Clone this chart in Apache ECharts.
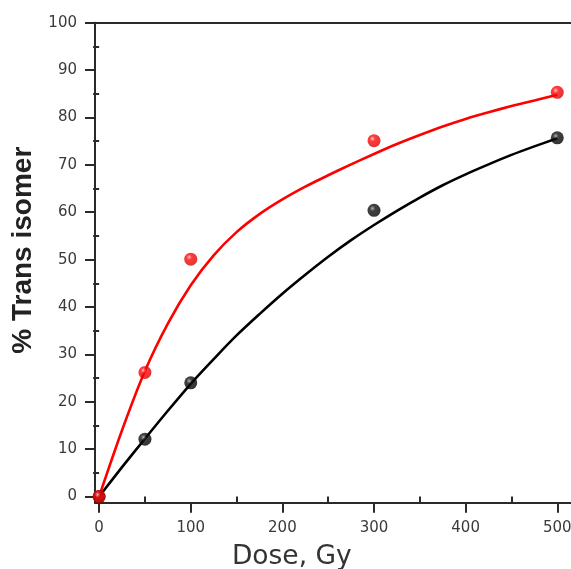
<!DOCTYPE html>
<html>
<head>
<meta charset="utf-8">
<script src="https://cdn.jsdelivr.net/npm/echarts@6/dist/echarts.min.js"></script>
<style>
  html, body { margin: 0; padding: 0; background: #fff; }
  #chart { width: 571px; height: 569px; }
</style>
</head>
<body>
<div id="chart"></div>
<script>
// Measured points (dose in Gy, % trans isomer)
const doses = [0, 50, 100, 300, 500];
const transRed = [0, 26.2, 50.1, 75.1, 85.3];
const transBlack = [0, 12.1, 24.0, 60.4, 75.7];

// Fitted curves, sampled every 25 Gy
const fitDoses = [0, 25, 50, 75, 100, 125, 150, 175, 200, 225, 250, 275, 300, 325, 350, 375, 400, 425, 450, 475, 500];
const fitRed = [0, 14.0, 26.5, 36.5, 44.6, 50.9, 55.8, 59.6, 62.7, 65.4, 67.8, 70.1, 72.3, 74.4, 76.3, 78.1, 79.7, 81.1, 82.4, 83.6, 84.8];
const fitBlack = [0, 6.2, 12.2, 18.1, 23.8, 29.0, 34.0, 38.5, 42.8, 46.8, 50.6, 54.1, 57.3, 60.3, 63.1, 65.7, 68.0, 70.1, 72.1, 73.9, 75.6];

// Tick positions
const xMajor = [0, 100, 200, 300, 400, 500];
const xMinor = [50, 150, 250, 350, 450];
const yMajor = [0, 10, 20, 30, 40, 50, 60, 70, 80, 90, 100];
const yMinor = [5, 15, 25, 35, 45, 55, 65, 75, 85, 95];

const X_MIN = -4.5, X_MAX = 520, Y_MIN = -1.3, Y_MAX = 100;
const AXIS_COLOR = '#2a2a2a';
const LABEL_FONT = { color: '#3a3a3a', fontFamily: 'DejaVu Sans', fontSize: 15 };

const pair = (xs, ys) => xs.map((x, i) => [x, ys[i]]);

function ball(base, light, dark) {
  return {
    type: 'radial', x: 0.38, y: 0.35, r: 0.7,
    colorStops: [
      { offset: 0, color: light },
      { offset: 0.3, color: base },
      { offset: 1, color: dark }
    ]
  };
}

const chart = echarts.init(document.getElementById('chart'));
chart.setOption({
  backgroundColor: '#fff',
  animation: false,
  grid: {
    left: 95, top: 22.7, right: -4.6, bottom: 66.3,
    containLabel: false, outerBoundsMode: 'none'
  },
  xAxis: [
    {
      type: 'value', min: X_MIN, max: X_MAX, position: 'bottom',
      name: 'Dose, Gy', nameLocation: 'middle', nameGap: 41,
      nameTextStyle: { fontFamily: 'DejaVu Sans', fontSize: 26.5, color: '#333', padding: [0, 87, 0, 0] },
      axisLine: { show: true, onZero: false, lineStyle: { color: AXIS_COLOR, width: 2 } },
      axisTick: { show: true, customValues: xMajor, length: 10, lineStyle: { color: AXIS_COLOR, width: 2 } },
      axisLabel: Object.assign({ customValues: xMajor, margin: 18 }, LABEL_FONT),
      splitLine: { show: false }
    },
    {
      type: 'value', min: X_MIN, max: X_MAX, position: 'bottom',
      axisLine: { show: false },
      axisTick: { show: true, customValues: xMinor, length: 6, lineStyle: { color: AXIS_COLOR, width: 2 } },
      axisLabel: { show: false },
      splitLine: { show: false }
    },
    {
      type: 'value', min: X_MIN, max: X_MAX, position: 'top',
      axisLine: { show: true, onZero: false, lineStyle: { color: AXIS_COLOR, width: 2 } },
      axisTick: { show: false },
      axisLabel: { show: false },
      splitLine: { show: false }
    }
  ],
  yAxis: [
    {
      type: 'value', min: Y_MIN, max: Y_MAX, position: 'left',
      name: '% Trans isomer', nameLocation: 'middle', nameGap: 50,
      nameTextStyle: { fontFamily: 'Liberation Sans', fontWeight: 'bold', fontSize: 28, color: '#222', padding: [0, 0, 0, 25] },
      axisLine: { show: true, onZero: false, lineStyle: { color: AXIS_COLOR, width: 2 } },
      axisTick: { show: true, customValues: yMajor, length: 10, lineStyle: { color: AXIS_COLOR, width: 2 } },
      axisLabel: Object.assign({ customValues: yMajor, margin: 18 }, LABEL_FONT),
      splitLine: { show: false }
    },
    {
      type: 'value', min: Y_MIN, max: Y_MAX, position: 'left',
      axisLine: { show: false },
      axisTick: { show: true, customValues: yMinor, length: 6, lineStyle: { color: AXIS_COLOR, width: 2 } },
      axisLabel: { show: false },
      splitLine: { show: false }
    }
  ],
  series: [
    {
      name: 'fit black', type: 'line', smooth: 0.3, showSymbol: false,
      data: pair(fitDoses, fitBlack),
      lineStyle: { color: '#000', width: 2.6 }, z: 2
    },
    {
      name: 'fit red', type: 'line', smooth: 0.3, showSymbol: false,
      data: pair(fitDoses, fitRed),
      lineStyle: { color: '#ff0000', width: 2.6 }, z: 2
    },
    {
      name: 'black', type: 'scatter', symbol: 'circle', symbolSize: 13,
      data: pair(doses, transBlack),
      itemStyle: { color: ball('#111', '#9a9a9a', '#000') }, z: 3
    },
    {
      name: 'red', type: 'scatter', symbol: 'circle', symbolSize: 13,
      data: pair(doses, transRed),
      itemStyle: { color: ball('#ff0a0a', '#ffb0b0', '#d80000') }, z: 4
    }
  ]
});
</script>
</body>
</html>
